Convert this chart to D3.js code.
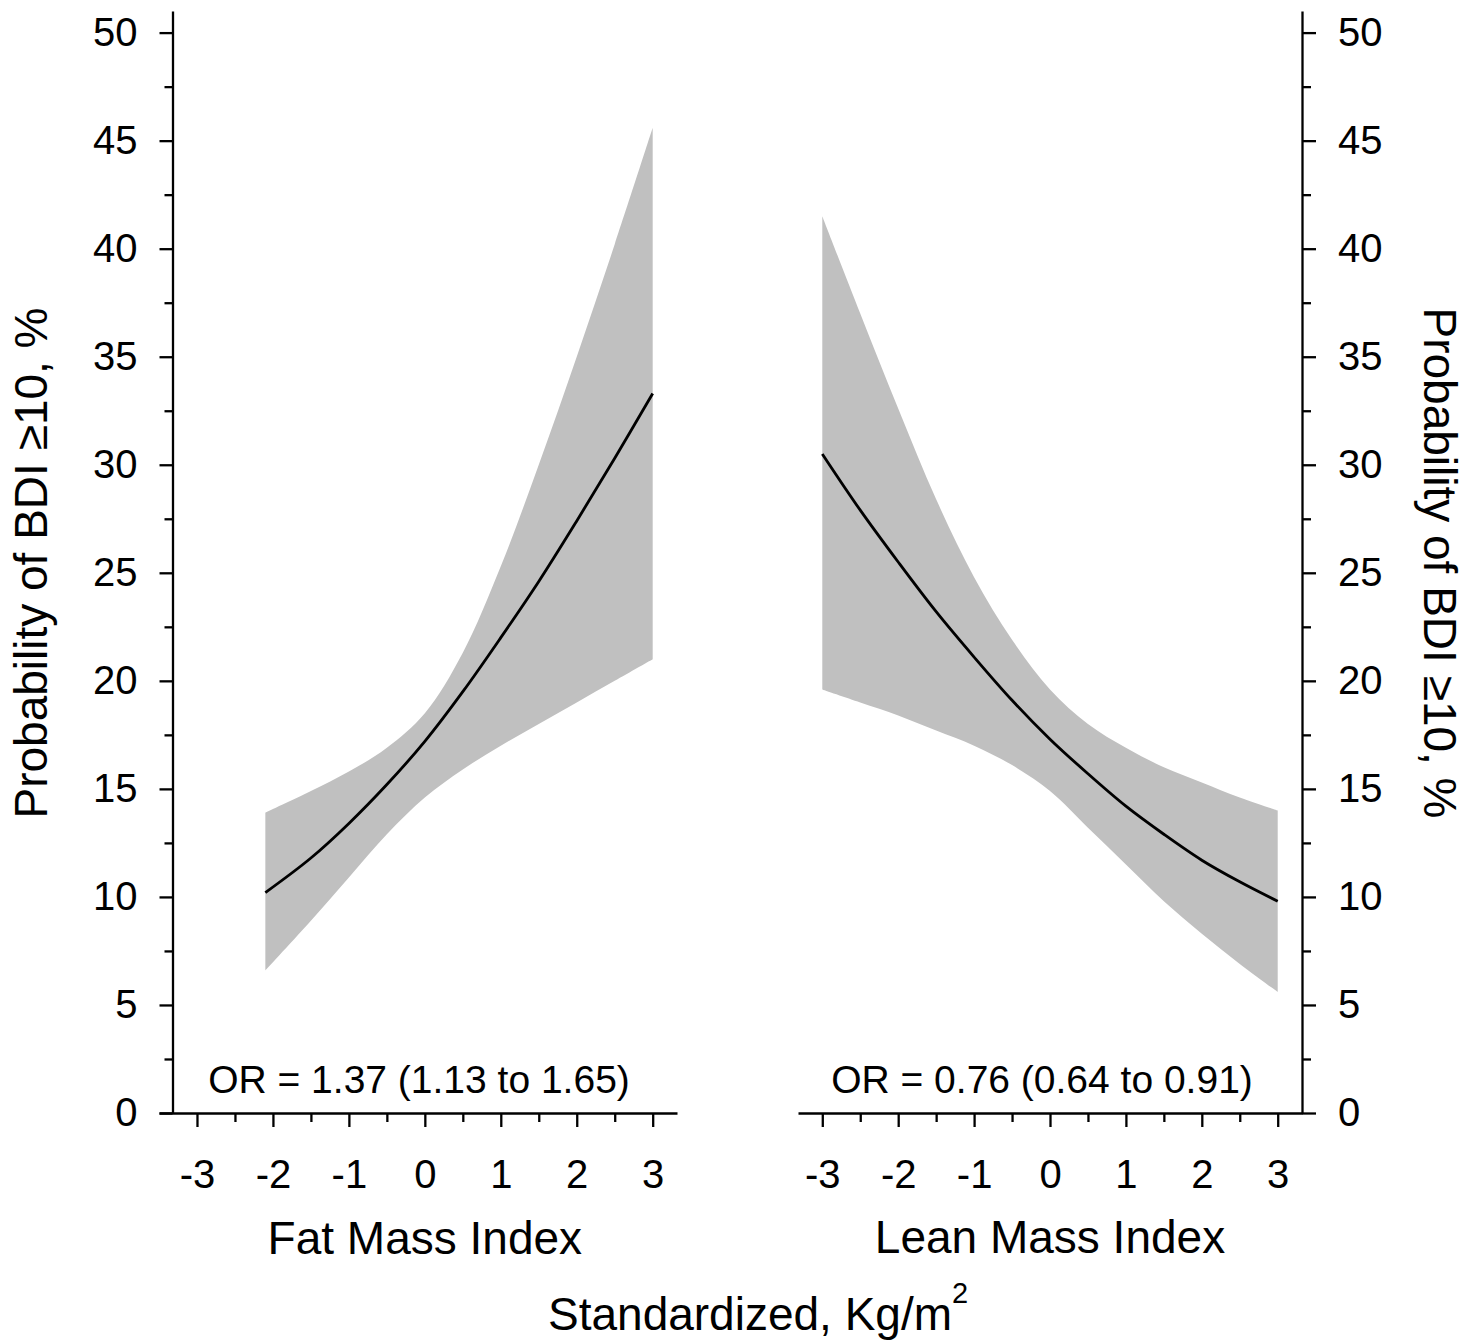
<html>
  <head>
    <meta charset="utf-8">
    <script src="https://cdn.jsdelivr.net/npm/d3@7"></script>
    <style>
      body { margin: 0; background: #fff; }
      text { font-family: "Liberation Sans", Arial, sans-serif; fill: #000; }
    </style>
  </head>
  <body>
    <div id="chart"></div>
    <script>
      // values (probability of BDI >= 10, %)
      const fatX = [-2.1, -1.5, -1, -0.5, 0, 0.5, 1, 1.5, 2, 2.5, 3];
      const fatProb = [10.2, 11.8, 13.4, 15.2, 17.2, 19.5, 22.0, 24.6, 27.4, 30.3, 33.3];
      const fatUpper = [13.9, 14.9, 15.8, 16.9, 18.5, 21.3, 25.3, 30.0, 35.0, 40.2, 45.6];
      const fatLower = [6.6, 8.9, 10.9, 12.9, 14.6, 15.9, 17.0, 18.0, 19.0, 20.0, 21.0];

      const leanX = [-3, -2.5, -2, -1.5, -1, -0.5, 0, 0.5, 1, 1.5, 2, 2.5, 3];
      const leanProb = [30.5, 27.9, 25.5, 23.2, 21.1, 19.1, 17.3, 15.7, 14.2, 12.9, 11.7, 10.7, 9.8];
      const leanUpper = [41.5, 37.0, 32.6, 28.4, 24.8, 21.9, 19.6, 18.0, 16.9, 16.0, 15.3, 14.6, 14.0];
      const leanLower = [19.6, 19.0, 18.4, 17.7, 17.0, 16.1, 14.9, 13.2, 11.5, 9.8, 8.3, 6.9, 5.6];

      const yTicks = [0, 5, 10, 15, 20, 25, 30, 35, 40, 45, 50];
      const yMinor = [2.5, 7.5, 12.5, 17.5, 22.5, 27.5, 32.5, 37.5, 42.5, 47.5];
      const xTicks = [-3, -2, -1, 0, 1, 2, 3];
      const xMinor = [-2.5, -1.5, -0.5, 0.5, 1.5, 2.5];

      const orFat = "OR = 1.37 (1.13 to 1.65)";
      const orLean = "OR = 0.76 (0.64 to 0.91)";

      const W = 1481, H = 1344;

      const svg = d3
        .select("#chart")
        .append("svg")
        .attr("width", W)
        .attr("height", H);

      let y = d3.scaleLinear().domain([0, 51]).range([1113, 11]);
      let xFat = d3.scaleLinear().domain([-3.5, 3.32]).range([159, 677]);
      let xLean = d3.scaleLinear().domain([-3.32, 3.32]).range([798, 1302]);

      // plain hyphen for negatives, like the original
      const fmt = (d) => String(d);

      function styleAxis(g) {
        g.selectAll("path, line").attr("stroke", "#000").attr("stroke-width", 2.3);
        g.selectAll("text")
          .style("font-size", "40px")
          .attr("fill", "#000");
      }

      // left y axis
      svg.append("g")
        .attr("transform", "translate(172.5,0)")
        .call(d3.axisLeft(y).tickValues(yTicks).tickFormat(fmt).tickSize(13).tickSizeOuter(0).tickPadding(22))
        .call(styleAxis);
      svg.append("g")
        .attr("transform", "translate(172.5,0)")
        .call(d3.axisLeft(y).tickValues(yMinor).tickSize(8).tickFormat(""))
        .call(styleAxis)
        .select(".domain").remove();

      // right y axis
      svg.append("g")
        .attr("transform", "translate(1302,0)")
        .call(d3.axisRight(y).tickValues(yTicks).tickFormat(fmt).tickSize(14).tickSizeOuter(0).tickPadding(22))
        .call(styleAxis);
      svg.append("g")
        .attr("transform", "translate(1302,0)")
        .call(d3.axisRight(y).tickValues(yMinor).tickSize(9).tickFormat(""))
        .call(styleAxis)
        .select(".domain").remove();

      // x axes for both panels
      [xFat, xLean].forEach(function (x) {
        svg.append("g")
          .attr("transform", "translate(0,1113)")
          .call(d3.axisBottom(x).tickValues(xTicks).tickFormat(fmt).tickSize(14).tickSizeOuter(0).tickPadding(33))
          .call(styleAxis);
        svg.append("g")
          .attr("transform", "translate(0,1113)")
          .call(d3.axisBottom(x).tickValues(xMinor).tickSize(9).tickFormat(""))
          .call(styleAxis)
          .select(".domain").remove();
      });

      function drawPanel(x, xs, prob, upper, lower) {
        let rows = xs.map((v, i) => ({ x: v, p: prob[i], hi: upper[i], lo: lower[i] }));

        let band = d3
          .area()
          .x((d) => x(d.x))
          .y0((d) => y(d.lo))
          .y1((d) => y(d.hi))
          .curve(d3.curveCatmullRom.alpha(0.5));

        let line = d3
          .line()
          .x((d) => x(d.x))
          .y((d) => y(d.p))
          .curve(d3.curveCatmullRom.alpha(0.5));

        svg.append("path")
          .datum(rows)
          .attr("d", band)
          .attr("fill", "#c0c0c0");

        svg.append("path")
          .datum(rows)
          .attr("d", line)
          .attr("fill", "none")
          .attr("stroke", "#000")
          .attr("stroke-width", 2.8);
      }

      drawPanel(xFat, fatX, fatProb, fatUpper, fatLower);
      drawPanel(xLean, leanX, leanProb, leanUpper, leanLower);

      // odds ratio notes
      svg.append("text")
        .attr("x", 419)
        .attr("y", 1093)
        .attr("text-anchor", "middle")
        .style("font-size", "39px")
        .text(orFat);

      svg.append("text")
        .attr("x", 1042)
        .attr("y", 1093)
        .attr("text-anchor", "middle")
        .style("font-size", "39px")
        .text(orLean);

      // axis titles
      svg.append("text")
        .attr("x", xFat(0))
        .attr("y", 1254)
        .attr("text-anchor", "middle")
        .style("font-size", "46px")
        .text("Fat Mass Index");

      svg.append("text")
        .attr("x", xLean(0))
        .attr("y", 1253)
        .attr("text-anchor", "middle")
        .style("font-size", "46px")
        .text("Lean Mass Index");

      let bottomTitle = svg.append("text")
        .attr("x", 548)
        .attr("y", 1330)
        .attr("text-anchor", "start")
        .style("font-size", "46px");
      bottomTitle.append("tspan").text("Standardized, Kg/m");
      bottomTitle.append("tspan")
        .attr("dy", -27)
        .style("font-size", "29px")
        .text("2");

      svg.append("text")
        .attr("transform", "translate(47,563) rotate(-90)")
        .attr("text-anchor", "middle")
        .style("font-size", "46px")
        .text("Probability of BDI \u226510, %");

      svg.append("text")
        .attr("transform", "translate(1424,563) rotate(90)")
        .attr("text-anchor", "middle")
        .style("font-size", "46px")
        .text("Probability of BDI \u226510, %");
    </script>
  </body>
</html>
